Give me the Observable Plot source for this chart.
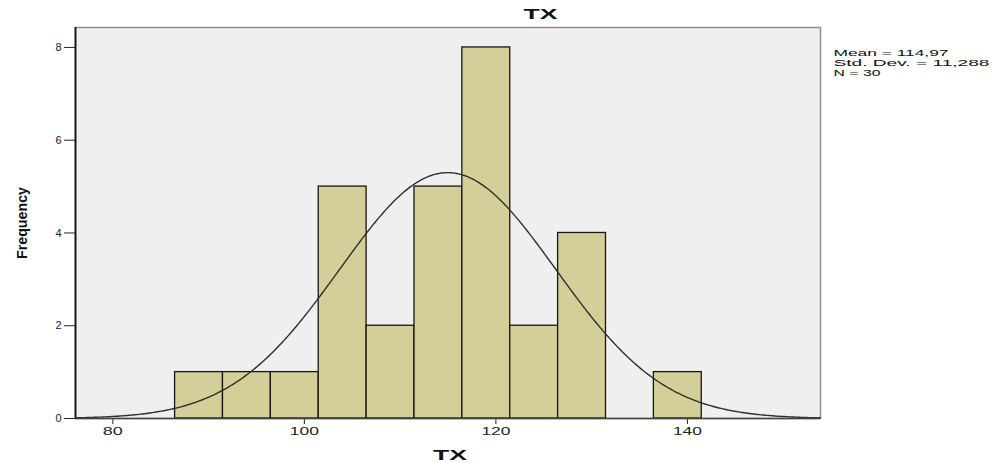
<!DOCTYPE html>
<html><head><meta charset="utf-8">
<script src="https://cdn.jsdelivr.net/npm/d3@7"></script>
<script src="https://cdn.jsdelivr.net/npm/@observablehq/plot@0.6"></script>
<style>body{margin:0;background:#fff;} svg{overflow:visible}</style>
</head><body><div id="chart"></div>
<script>
// ---- data ----
const binStarts = [86.5, 91.5, 96.5, 101.5, 106.5, 111.5, 116.5, 121.5, 126.5, 131.5, 136.5];
const binWidth = 5;
const frequencies = [1, 1, 1, 5, 2, 5, 8, 2, 4, 0, 1];
const statMean = 114.97;
const statSD = 11.288;
const statN = 30;
const statLabels = ["Mean = 114,97", "Std. Dev. = 11,288", "N = 30"];
const xTicks = [80, 100, 120, 140];
const yTicks = [0, 2, 4, 6, 8];
const titleText = "TX";
const xLabel = "TX";
const yLabel = "Frequency";

const xDomain = [76.1, 153.9];
const yDomain = [0, 8.43];

const bins = binStarts.map((s, i) => ({x1: s, x2: s + binWidth, y: frequencies[i]})).filter(d => d.y > 0);

// fitted normal curve (SPSS overlay) defined by the displayed mean / SD / N
const curve = d3.range(xDomain[0], xDomain[1] + 0.01, 0.2).map(x => ({
  x,
  y: statN * binWidth * Math.exp(-0.5 * ((x - statMean) / statSD) ** 2) / (statSD * Math.sqrt(2 * Math.PI))
}));

const font = "'Liberation Sans', Arial, sans-serif";

const chart = Plot.plot({
  width: 992,
  height: 463,
  marginLeft: 75,
  marginRight: 172,
  marginTop: 27,
  marginBottom: 45,
  style: {fontFamily: font, fontSize: "11px", color: "#222", background: "#fff"},
  x: {domain: xDomain, ticks: xTicks, tickSize: 6, tickPadding: 3, label: null, tickFormat: d => String(d)},
  y: {domain: yDomain, ticks: yTicks, tickSize: 11, tickPadding: 3, label: null, tickFormat: d => String(d)},
  marks: [
    Plot.frame({fill: "#efefef", stroke: "#8f8f8f", strokeWidth: 1.5}),
    Plot.rectY(bins, {x1: "x1", x2: "x2", y: "y", fill: "#d4cf98", stroke: "#161616", strokeWidth: 1.3, inset: 0}),
    Plot.line(curve, {x: "x", y: "y", stroke: "#2e2e2e", strokeWidth: 1.4}),
    Plot.ruleX([xDomain[0]], {stroke: "#111", strokeWidth: 1.8}),
    Plot.ruleY([0], {stroke: "#444", strokeWidth: 1.6}),
    Plot.text([titleText], {text: d => d, frameAnchor: "top-left", dx: 465, dy: -13, lineAnchor: "middle", textAnchor: "middle", fontWeight: "bold", fontSize: 15, fill: "#111"}),
    Plot.text([xLabel], {text: d => d, frameAnchor: "bottom", dx: 2, dy: 37, lineAnchor: "middle", textAnchor: "middle", fontWeight: "bold", fontSize: 15, fill: "#111"}),
    Plot.text([yLabel], {text: d => d, frameAnchor: "left", dx: -53, dy: 0, rotate: -90, lineAnchor: "middle", textAnchor: "middle", fontWeight: "bold", fontSize: 15, fill: "#111"}),
    Plot.text([statLabels[0]], {text: d => d, frameAnchor: "top-right", dx: 13, dy: 25.5, lineAnchor: "middle", textAnchor: "start", fontSize: 9.5, fill: "#111"}),
    Plot.text([statLabels[1]], {text: d => d, frameAnchor: "top-right", dx: 13, dy: 35.5, lineAnchor: "middle", textAnchor: "start", fontSize: 9.5, fill: "#111"}),
    Plot.text([statLabels[2]], {text: d => d, frameAnchor: "top-right", dx: 13, dy: 45.5, lineAnchor: "middle", textAnchor: "start", fontSize: 9.5, fill: "#111"})
  ]
});

document.getElementById("chart").appendChild(chart);

// stretch text horizontally like the SPSS export
const widths = {"TX": 34, "Frequency": 72, "Mean = 114,97": 115, "Std. Dev. = 11,288": 156, "N = 30": 47};
chart.querySelectorAll("text").forEach(t => {
  const s = t.textContent;
  if (widths[s] && !t.closest("[aria-label$='tick label']")) {
    t.setAttribute("textLength", widths[s]);
    t.setAttribute("lengthAdjust", "spacingAndGlyphs");
  }
});
chart.querySelectorAll("[aria-label='x-axis tick label'] text").forEach(t => {
  t.setAttribute("textLength", t.textContent.length === 2 ? 20 : 29);
  t.setAttribute("lengthAdjust", "spacingAndGlyphs");
});
</script>
</body></html>
